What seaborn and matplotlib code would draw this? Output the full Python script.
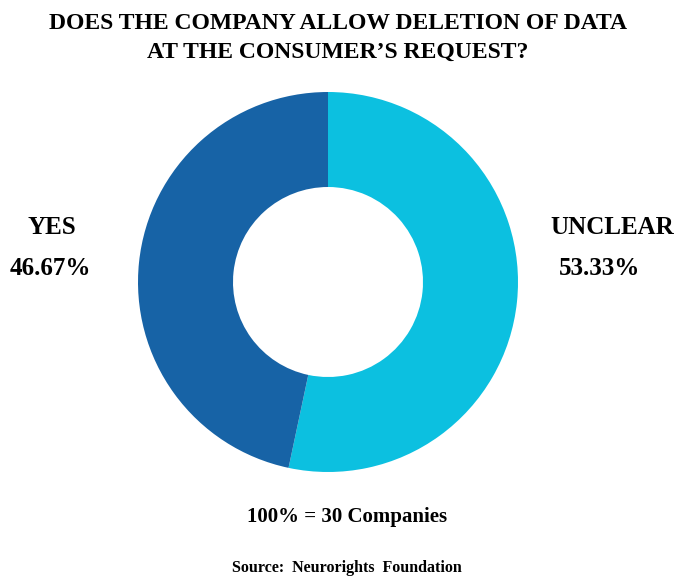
import matplotlib
matplotlib.use("Agg")
import matplotlib.pyplot as plt
import seaborn as sns

labels = ["UNCLEAR", "YES"]
values = [53.33, 46.67]
colors = ["#0CC0E0", "#1763A6"]
title_lines = "DOES THE COMPANY ALLOW DELETION OF DATA\nAT THE CONSUMER\u2019S REQUEST?"
base_note = "100% = 30 Companies"
source = "Source:  Neurorights  Foundation"

sns.set_theme(style="white")
plt.rcParams['font.family'] = ['Liberation Serif', 'DejaVu Serif']
plt.rcParams['text.color'] = 'black'

fig = plt.figure(figsize=(6.8, 5.77), dpi=100)
ax = fig.add_axes([(328 - 190) / 680, (577 - 282 - 190) / 577, 380 / 680, 380 / 577])
ax.pie(values, colors=colors, startangle=90, counterclock=False,
       wedgeprops=dict(width=0.5, edgecolor="none"))
ax.set_xlim(-1, 1)
ax.set_ylim(-1, 1)
ax.set_aspect("equal")
ax.axis("off")

fig.text(338 / 680, 1 - 38 / 577, title_lines, ha="center", va="center",
         fontsize=17, fontweight="bold", linespacing=1.45)
fig.text(52 / 680, 1 - 228 / 577, f"{labels[1]}", ha="center", va="center",
         fontsize=18, fontweight="bold")
fig.text(50 / 680, 1 - 268 / 577, f"{values[1]:.2f}%", ha="center", va="center",
         fontsize=18, fontweight="bold")
fig.text(612 / 680, 1 - 228 / 577, f"{labels[0]}", ha="center", va="center",
         fontsize=18, fontweight="bold")
fig.text(600 / 680, 1 - 268 / 577, f"{values[0]:.2f}%", ha="center", va="center",
         fontsize=18, fontweight="bold")
fig.text(347 / 680, 1 - 517 / 577, base_note, ha="center", va="center",
         fontsize=15, fontweight="bold")
fig.text(347 / 680, 1 - 568 / 577, source, ha="center", va="center",
         fontsize=11.5, fontweight="bold")

fig.savefig("out.png", dpi=100)
